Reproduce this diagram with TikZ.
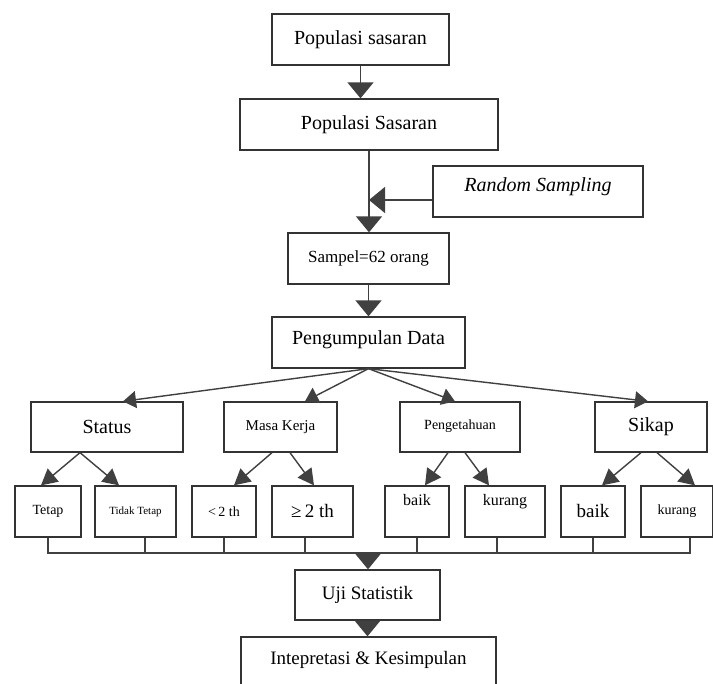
\documentclass[tikz,border=0pt]{standalone}
\usepackage{fontspec}
\setmainfont{Liberation Serif}
\usetikzlibrary{arrows.meta}
\tikzset{
  box/.style={draw=black!80, line width=1.3pt, fill=white, inner sep=0pt, align=center},
  conn/.style={draw=black!75, line width=1.4pt},
  bigarrow/.style={conn, -{Triangle[length=16pt,width=26pt]}},
  midarrow/.style={conn, -{Triangle[length=13pt,width=17pt]}},
  leafarrow/.style={conn, -{Triangle[length=16pt,width=17pt]}},
  fs/.style={font=\fontsize{#1}{#1}\selectfont}
}
\begin{document}
\begin{tikzpicture}[x=1pt,y=-1pt]
\useasboundingbox (0,0) rectangle (713,684);
\clip (0,0) rectangle (713,684);
\fill[white] (0,0) rectangle (713,684);
% top chain
\node[box, fs=20, minimum width=177pt, minimum height=51pt] (p1) at (360.5,39.5) {Populasi sasaran};
\node[box, fs=20, minimum width=258pt, minimum height=51pt] (p2) at (369,124.5) {Populasi Sasaran};
\node[box, fs=20, minimum width=210pt, minimum height=51pt, text height=12pt, text depth=12pt] (rs) at (538,191.5) {\itshape Random Sampling};
\node[box, fs=17, minimum width=161pt, minimum height=51pt] (s) at (368.5,258.5) {Sampel=62 orang};
\node[box, fs=20, minimum width=193pt, minimum height=51pt, text height=14pt, text depth=10pt] (pd) at (368.5,342.5) {Pengumpulan Data};
% level 2
\node[box, fs=20, minimum width=152pt, minimum height=50pt] (st) at (107,427) {Status};
\node[box, fs=15, minimum width=113pt, minimum height=50pt] (mk) at (280.5,427) {Masa Kerja};
\node[box, fs=14, minimum width=120pt, minimum height=50pt, text height=12pt, text depth=6pt] (pg) at (460,427) {Pengetahuan};
\node[box, fs=20, minimum width=112pt, minimum height=50pt] (sk) at (651,427) {Sikap};
% leaves
\node[box, fs=14, minimum width=66pt, minimum height=51pt] (l1) at (48,511.5) {Tetap};
\node[box, fs=11, minimum width=81pt, minimum height=51pt] (l2) at (135.5,511.5) {Tidak Tetap};
\node[box, fs=14, minimum width=64pt, minimum height=51pt] (l3) at (224,511.5) {<\,2 th};
\node[box, fs=19, minimum width=81pt, minimum height=51pt] (l4) at (312.5,511.5) {≥\,2 th};
\node[box, fs=16, minimum width=64pt, minimum height=51pt, text height=10pt, text depth=22pt] (l5) at (417,511.5) {baik};
\node[box, fs=16, minimum width=80pt, minimum height=51pt, text height=10pt, text depth=22pt] (l6) at (505,511.5) {kurang};
\node[box, fs=19, minimum width=64pt, minimum height=51pt] (l7) at (593,511.5) {baik};
\node[box, fs=14, minimum width=72pt, minimum height=51pt] (l8) at (677,511.5) {kurang};
% bottom
\node[box, fs=19, minimum width=145pt, minimum height=50pt] (uji) at (367.5,595) {Uji Statistik};
\node[box, fs=19, minimum width=255pt, minimum height=70pt, text height=14pt, text depth=30pt] (ik) at (368.5,672) {Intepretasi \& Kesimpulan};

% main arrows
\draw[bigarrow] (p1.south) -- (p1.south |- p2.north);
\draw[bigarrow] (p2.south) -- (p2.south |- s.north);
\coordinate (rsin) at (369,200);
\draw[bigarrow] ([yshift=-8.5pt]rs.west) -- (rsin);
\draw[bigarrow] (s.south) -- (s.south |- pd.north);
% level 2 arrows
\draw[midarrow] (pd.south) -- ([xshift=16pt]st.north);
\draw[midarrow] (pd.south) -- ([xshift=24.5pt]mk.north);
\draw[midarrow] (pd.south) -- ([xshift=-5pt]pg.north);
\draw[midarrow] (pd.south) -- ([xshift=-3pt]sk.north);
% leaf arrows
\draw[leafarrow] ([xshift=-27pt]st.south) -- ([xshift=-7pt]l1.north);
\draw[leafarrow] ([xshift=-27pt]st.south) -- ([xshift=-16.5pt]l2.north);
\draw[leafarrow] ([xshift=-8.5pt]mk.south) -- ([xshift=10pt]l3.north);
\draw[leafarrow] ([xshift=9.5pt]mk.south) -- ([xshift=1.5pt]l4.north);
\draw[leafarrow] ([xshift=-12pt]pg.south) -- ([xshift=8pt]l5.north);
\draw[leafarrow] ([xshift=5pt]pg.south) -- ([xshift=-16pt]l6.north);
\draw[leafarrow] ([xshift=-10pt]sk.south) -- ([xshift=9pt]l7.north);
\draw[leafarrow] ([xshift=6pt]sk.south) -- ([xshift=18pt]l8.north);
% bus
\coordinate (busL) at (48,553);
\coordinate (busR) at (690,553);
\coordinate (busM) at (368,553);
\draw[conn] (l1.south) -- (busL) -- (busR) -- ([xshift=13pt]l8.south);
\draw[conn] ([xshift=9.5pt]l2.south) -- ([xshift=9.5pt]l2.south |- busL);
\draw[conn] (l3.south) -- (l3.south |- busL);
\draw[conn] ([xshift=-7.5pt]l4.south) -- ([xshift=-7.5pt]l4.south |- busL);
\draw[conn] (l5.south) -- (l5.south |- busL);
\draw[conn] ([xshift=-8pt]l6.south) -- ([xshift=-8pt]l6.south |- busL);
\draw[conn] (l7.south) -- (l7.south |- busL);
\draw[bigarrow] (busM) -- (busM |- uji.north);
\draw[bigarrow] (uji.south) -- (uji.south |- ik.north);
\end{tikzpicture}
\end{document}
